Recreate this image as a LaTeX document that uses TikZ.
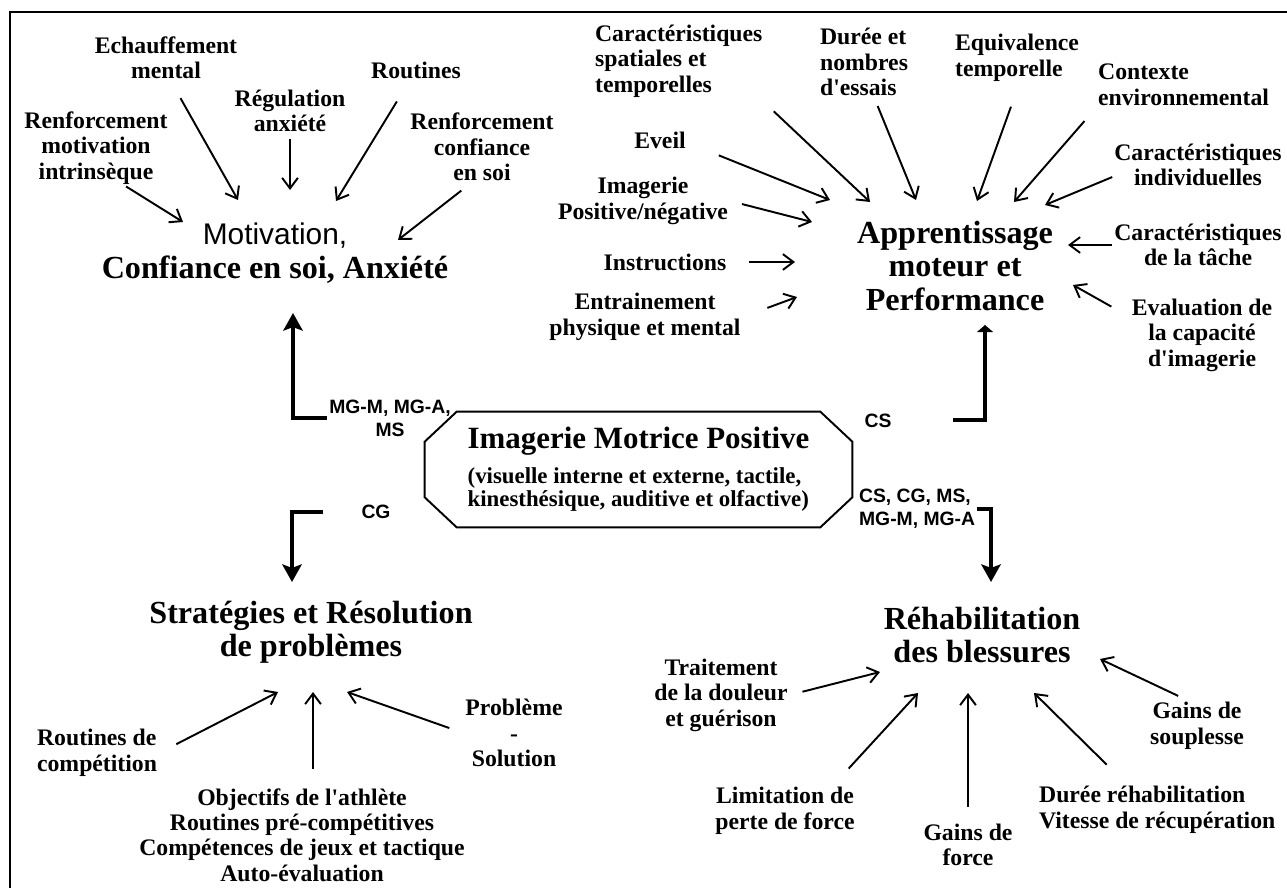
\documentclass[tikz,border=0pt]{standalone}
\usepackage{fontspec}
\setmainfont{Liberation Serif}
\setsansfont{Liberation Sans}
\usetikzlibrary{calc, arrows.meta, positioning}

\begin{document}
\begin{tikzpicture}[x=0.02cm, y=-0.02cm, >={Straight Barb[length=6pt,width=9pt]}]
	\tikzstyle{lbl} = [font=\fontsize{13.5}{14.5}\selectfont\bfseries, align=center, inner sep=1pt]
	\tikzstyle{ttl} = [font=\fontsize{18.3}{19}\selectfont\bfseries, align=center, inner sep=1pt]
	\tikzstyle{lblsans} = [font=\sffamily\bfseries\fontsize{11}{13}\selectfont, align=center, inner sep=1pt]
	\tikzstyle{arr} = [->, line width=1.1pt]
	\tikzstyle{bigarr} = [line width=2.6pt, -{Stealth[length=10pt,width=11pt,inset=2pt]}]
	
	\fill[white] (0,0) rectangle (1287,888);
	\useasboundingbox (0,0) rectangle (1287,888);
	\draw[line width=0.9pt] (10,888) -- (10,12) -- (1287,12);
	
	% motivation
	\node[ttl] 		(motiv) 	at (275,253) 	{{\sffamily\mdseries\fontsize{17}{19}\selectfont Motivation,}\\Confiance en soi, Anxiété};
	\node[lbl] 		(echauf) 	at (166,58) 	{Echauffement\\mental};
	\node[lbl] 		(regul) 	at (290,111) 	{Régulation\\anxiété};
	\node[lbl] 		(routines) 	at (416,70) 	{Routines};
	\node[lbl] 		(renfmot) 	at (96,148) 	{Renforcement\\motivation\\intrinsèque};
	\node[lbl] 		(renfconf) 	at (482,147) 	{Renforcement\\confiance\\en soi};
	\coordinate (mot1) at (183,222);
	\coordinate (mot2) at (238,200);
	\coordinate (mot3) at (290,190);
	\coordinate (mot4) at (336,201);
	\coordinate (mot5) at (398,240);
	\draw[arr] (renfmot.-52) -- (mot1);
	\draw[arr, shorten <=11pt] (echauf.-78) -- (mot2);
	\draw[arr, shorten <=3pt] (regul.south) -- (mot3);
	\draw[arr, shorten <=14pt] (routines.-121) -- (mot4);
	\draw[arr, shorten <=7pt] (renfconf.-107) -- (mot5);
	
	% apprentissage
	\node[ttl] 		(apprent) 	at (955,266) 	{Apprentissage\\moteur et\\Performance};
	\node[lbl, align=left, anchor=west] (caracsp) 	at (593,61) 	{Caractéristiques\\spatiales et\\temporelles};
	\node[lbl, align=left, anchor=west] (duree) 	at (818,62) 	{Durée et\\nombres\\d\textquotesingle essais};
	\node[lbl, align=left, anchor=west] (equiv) 	at (953,58) 	{Equivalence\\temporelle};
	\node[lbl, align=left, anchor=west] (contexte) 	at (1096,85) 	{Contexte\\environnemental};
	\node[lbl] 		(eveil) 	at (660,140) 	{Eveil};
	\node[lbl] 		(imagpn) 	at (643,201) 	{Imagerie\\Positive/négative};
	\node[lbl] 		(instr) 	at (665,262) 	{Instructions};
	\node[lbl] 		(entr) 		at (645,317) 	{Entrainement\\physique et mental};
	\node[lbl] 		(caracind) 	at (1198,165) 	{Caractéristiques\\individuelles};
	\node[lbl] 		(caractache) at (1198,245) 	{Caractéristiques\\de la tâche};
	\node[lbl] 		(evalu) 	at (1202,335) 	{Evaluation de\\la capacité\\d\textquotesingle imagerie};
	\coordinate (app1) at (870,202);
	\coordinate (app2) at (916,200);
	\coordinate (app3) at (977,201);
	\coordinate (app4) at (1014,202);
	\coordinate (app5) at (1045,205);
	\coordinate (app6) at (830,200);
	\coordinate (app7) at (812,222);
	\coordinate (app8) at (795,262);
	\coordinate (app9) at (797,297);
	\coordinate (app10) at (1068,245);
	\coordinate (app11) at (1073,285);
	\draw[arr, shorten <=10pt] (caracsp.-25) -- (app1);
	\draw[arr, shorten <=5pt] (duree.-74) -- (app2);
	\draw[arr, shorten <=14pt] (equiv.-85) -- (app3);
	\draw[arr, shorten <=10pt] (contexte.south west) -- (app4);
	\draw[arr] (caracind.-172) -- (app5);
	\draw[arr, shorten <=19pt] (eveil.-6) -- (app6);
	\draw[arr, shorten <=7pt] (imagpn.east) -- (app7);
	\draw[arr, shorten <=12pt] (instr.east) -- (app8);
	\draw[arr, shorten <=15pt] (entr.east) -- (app9);
	\draw[arr] (caractache.west) -- (app10);
	\draw[arr, shorten <=12pt] (evalu.166) -- (app11);
	
	% imagerie motrice
	\node[minimum width=8.54cm, minimum height=2.3cm, align=left, inner sep=0pt,
		font=\fontsize{13}{13.2}\selectfont\bfseries] (imp) at (638.5,469.5)
		{{\fontsize{17.6}{19}\selectfont Imagerie Motrice Positive}\\[6.8pt](visuelle interne et externe, tactile,\\kinesthésique, auditive et olfactive)};
	\draw[line width=1.1pt] ($(imp.north west)+(32,0)$) -- ($(imp.north east)+(-32,0)$)
		-- ($(imp.north east)+(0,30)$) -- ($(imp.south east)+(0,-30)$)
		-- ($(imp.south east)+(-32,0)$) -- ($(imp.south west)+(32,0)$)
		-- ($(imp.south west)+(0,-30)$) -- ($(imp.north west)+(0,30)$) -- cycle;
	
	\node[lblsans] 	(mglbl) 	at (390,418) 	{MG-M, MG-A,\\MS};
	\node[lblsans] 	(cslbl) 	at (878,421) 	{CS};
	\node[lblsans] 	(cglbl) 	at (376,512) 	{CG};
	\node[lblsans, align=left, anchor=west] (rhlbl) at (857,509) {CS, CG, MS,\\MG-M, MG-A};
	\coordinate (motin) at (293,313);
	\coordinate (csfree) at (953,420);
	\coordinate (apin) at (985,325);
	\coordinate (cgfree) at (323,512);
	\coordinate (stratin) at (292,582);
	\coordinate (rehin) at (991,582);
	\draw[bigarr] (mglbl.west) -| (motin);
	\draw[line width=2.6pt, -{Triangle[length=4pt,width=9pt]}] (csfree) -| (apin);
	\draw[bigarr] (cgfree) -| (stratin);
	\draw[bigarr] (rhlbl.east) -| (rehin);
	
	% strategies
	\node[ttl] 		(strat) 	at (311,632) 	{Stratégies et Résolution\\de problèmes};
	\node[lbl, align=left, anchor=west] (routcomp) at (35,753) {Routines de\\compétition};
	\node[lbl] 		(objectifs) at (302,835) 	{Objectifs de l\textquotesingle athlète\\Routines pré-compétitives\\Compétences de jeux et tactique\\Auto-évaluation};
	\node[lbl] 		(probl) 	at (514,733) 	{Problème\\-\\Solution};
	\coordinate (str1) at (278,692);
	\coordinate (str2) at (313,692);
	\coordinate (str3) at (347,692);
	\draw[arr, shorten <=11pt] (routcomp.east) -- (str1);
	\draw[arr, shorten <=10pt] (objectifs.north -| str2) -- (str2);
	\draw[arr, shorten <=8.5pt] (probl.west) -- (str3);
	
	% rehabilitation
	\node[ttl] 		(rehab) 	at (982,635) 	{Réhabilitation\\des blessures};
	\node[lbl] 		(traitem) 	at (721,695) 	{Traitement\\de la douleur\\et guérison};
	\node[lbl] 		(limit) 	at (785,811) 	{Limitation de\\perte de force};
	\node[lbl] 		(gainsf) 	at (968,845) 	{Gains de\\force};
	\node[lbl, align=left, anchor=west] (dureer) at (1037,810) {Durée réhabilitation\\Vitesse de récupération};
	\node[lbl] 		(gainss) 	at (1197,726) 	{Gains de\\souplesse};
	\coordinate (reh1) at (880,672);
	\coordinate (reh2) at (918,693);
	\coordinate (reh3) at (968,693);
	\coordinate (reh4) at (1034,693);
	\coordinate (reh5) at (1100,659);
	\draw[arr, shorten <=7.5pt] (traitem.east) -- (reh1);
	\draw[arr, shorten <=13pt] (limit.28) -- (reh2);
	\draw[arr, shorten <=8.5pt] (gainsf.north) -- (reh3);
	\draw[arr, shorten <=16pt] (dureer.140) -- (reh4);
	\draw[arr, shorten <=6pt] (gainss.110) -- (reh5);
\end{tikzpicture}
\end{document}
